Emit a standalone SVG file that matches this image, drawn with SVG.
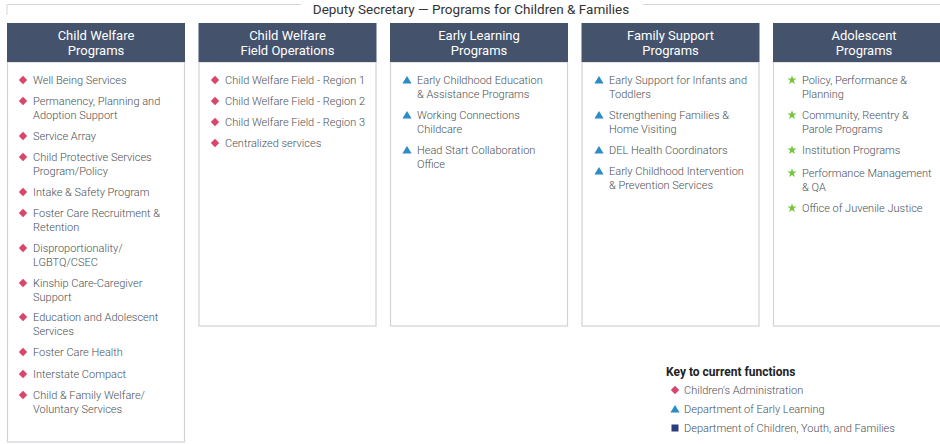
<svg xmlns="http://www.w3.org/2000/svg" width="940" height="444" viewBox="0 0 940 444">
<style>
.bg{fill:#ffffff}
.frame{fill:none;stroke:#d4d6da;stroke-width:1}
.body{fill:#ffffff;stroke:#d0d3d8;stroke-width:1.2}
.head{fill:#44526c}
.ht{font-family:Roboto,"Liberation Sans",sans-serif;font-size:13px;fill:#ffffff;text-anchor:middle}
.it{font-family:Roboto,"Liberation Sans",sans-serif;font-size:11px;font-weight:300;fill:#4a4f55}
.title{font-family:Roboto,"Liberation Sans",sans-serif;font-size:13.5px;fill:#333333;text-anchor:middle}
.key{font-family:Roboto,"Liberation Sans",sans-serif;font-size:12px;font-weight:bold;fill:#222}
.dia{fill:#d9466a}
.tri{fill:#2a8cc8}
.star{fill:#78c63f}
.sq{fill:#2b3d7c}
</style>
<defs>
<path id="d" d="M0,-4.2 L4.2,0 L0,4.2 L-4.2,0 Z" class="dia"/>
<path id="t" d="M0,-4 L4.6,3.6 L-4.6,3.6 Z" class="tri"/>
<path id="s" d="M0,-4.8 L1.2,-1.5 L4.6,-1.5 L1.9,0.6 L2.9,4 L0,2 L-2.9,4 L-1.9,0.6 L-4.6,-1.5 L-1.2,-1.5 Z" class="star"/>
</defs>
<rect class="bg" x="0" y="0" width="940" height="444"/>
<g id="connectors">
<path class="frame" d="M7,15 V4.5 H301"/>
<path class="frame" d="M643,4.5 H940"/>
</g>
<text class="title" x="471" y="13.5">Deputy Secretary — Programs for Children &amp; Families</text>

<g id="box-child-welfare-programs">
<rect class="body" x="7.5" y="62" width="177" height="380"/>
<rect class="head" x="7" y="23" width="178" height="39"/>
<text class="ht" x="96" y="40">Child Welfare</text>
<text class="ht" x="96" y="55">Programs</text>
<use href="#d" x="23" y="80"/><text class="it" x="33" y="84">Well Being Services</text>
<use href="#d" x="23" y="101"/><text class="it" x="33" y="105">Permanency, Planning and</text><text class="it" x="33" y="119">Adoption Support</text>
<use href="#d" x="23" y="136"/><text class="it" x="33" y="140">Service Array</text>
<use href="#d" x="23" y="157"/><text class="it" x="33" y="161">Child Protective Services</text><text class="it" x="33" y="175">Program/Policy</text>
<use href="#d" x="23" y="192"/><text class="it" x="33" y="196">Intake &amp; Safety Program</text>
<use href="#d" x="23" y="213"/><text class="it" x="33" y="217">Foster Care Recruitment &amp;</text><text class="it" x="33" y="231">Retention</text>
<use href="#d" x="23" y="248"/><text class="it" x="33" y="252">Disproportionality/</text><text class="it" x="33" y="266">LGBTQ/CSEC</text>
<use href="#d" x="23" y="283"/><text class="it" x="33" y="287">Kinship Care-Caregiver</text><text class="it" x="33" y="301">Support</text>
<use href="#d" x="23" y="317"/><text class="it" x="33" y="321">Education and Adolescent</text><text class="it" x="33" y="335">Services</text>
<use href="#d" x="23" y="352"/><text class="it" x="33" y="356">Foster Care Health</text>
<use href="#d" x="23" y="374"/><text class="it" x="33" y="378">Interstate Compact</text>
<use href="#d" x="23" y="395"/><text class="it" x="33" y="399"> Child &amp; Family Welfare/</text><text class="it" x="33" y="413">Voluntary Services</text>
</g>

<g id="box-child-welfare-field-operations">
<rect class="body" x="199" y="62" width="177" height="264"/>
<rect class="head" x="198.5" y="23" width="178" height="39"/>
<text class="ht" x="287.5" y="40">Child Welfare</text>
<text class="ht" x="287.5" y="55">Field Operations</text>
<use href="#d" x="215" y="80"/><text class="it" x="225" y="84">Child Welfare Field - Region 1</text>
<use href="#d" x="215" y="101"/><text class="it" x="225" y="105">Child Welfare Field - Region 2</text>
<use href="#d" x="215" y="122"/><text class="it" x="225" y="126">Child Welfare Field - Region 3</text>
<use href="#d" x="215" y="143"/><text class="it" x="225" y="147">Centralized services</text>
</g>

<g id="box-early-learning-programs">
<rect class="body" x="390.5" y="62" width="177" height="264"/>
<rect class="head" x="390" y="23" width="178" height="39"/>
<text class="ht" x="479" y="40">Early Learning</text>
<text class="ht" x="479" y="55">Programs</text>
<use href="#t" x="407" y="80"/><text class="it" x="417" y="84">Early Childhood Education</text><text class="it" x="417" y="98">&amp; Assistance Programs</text>
<use href="#t" x="407" y="115"/><text class="it" x="417" y="119">Working Connections</text><text class="it" x="417" y="133">Childcare</text>
<use href="#t" x="407" y="150"/><text class="it" x="417" y="154">Head Start Collaboration</text><text class="it" x="417" y="168">Office</text>
</g>

<g id="box-family-support-programs">
<rect class="body" x="582" y="62" width="177" height="264"/>
<rect class="head" x="581.5" y="23" width="178" height="39"/>
<text class="ht" x="670.5" y="40">Family Support</text>
<text class="ht" x="670.5" y="55">Programs</text>
<use href="#t" x="599" y="80"/><text class="it" x="609" y="84">Early Support for Infants and</text><text class="it" x="609" y="98">Toddlers</text>
<use href="#t" x="599" y="115"/><text class="it" x="609" y="119">Strengthening Families &amp;</text><text class="it" x="609" y="133">Home Visiting</text>
<use href="#t" x="599" y="150"/><text class="it" x="609" y="154">DEL Health Coordinators</text>
<use href="#t" x="599" y="171"/><text class="it" x="609" y="175">Early Childhood Intervention</text><text class="it" x="609" y="189">&amp; Prevention Services</text>
</g>

<g id="box-adolescent-programs">
<rect class="body" x="773.5" y="62" width="177" height="264"/>
<rect class="head" x="773" y="23" width="178" height="39"/>
<text class="ht" x="864" y="40">Adolescent</text>
<text class="ht" x="864" y="55">Programs</text>
<use href="#s" x="792" y="80"/><text class="it" x="802" y="84">Policy, Performance &amp;</text><text class="it" x="802" y="98">Planning</text>
<use href="#s" x="792" y="115"/><text class="it" x="802" y="119">Community, Reentry &amp;</text><text class="it" x="802" y="133">Parole Programs</text>
<use href="#s" x="792" y="150"/><text class="it" x="802" y="154">Institution Programs</text>
<use href="#s" x="792" y="173"/><text class="it" x="802" y="177">Performance Management</text><text class="it" x="802" y="191">&amp; QA</text>
<use href="#s" x="792" y="208"/><text class="it" x="802" y="212">Office of Juvenile Justice</text>
</g>

<g id="key">
<text class="key" x="666" y="376">Key to current functions</text>
<use href="#d" x="675" y="390"/><text class="it" x="684" y="394">Children's Administration</text>
<use href="#t" x="675" y="409"/><text class="it" x="684" y="413">Department of Early Learning</text>
<rect class="sq" x="671.5" y="424.5" width="7" height="7"/><text class="it" x="684" y="432">Department of Children, Youth, and Families</text>
<circle cx="675" cy="448" r="4" fill="#d86ac8"/>
</g>
</svg>
